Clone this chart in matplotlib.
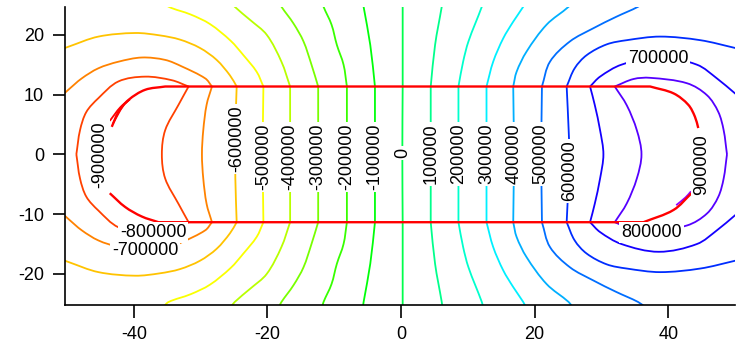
import matplotlib
matplotlib.use("Agg")
import matplotlib.pyplot as plt
import matplotlib.colors as mcolors
from matplotlib.path import Path
from matplotlib.patches import PathPatch
import numpy as np

plt.rcParams['font.family'] = ['Liberation Sans', 'DejaVu Sans']
plt.rcParams['axes.unicode_minus'] = False

# Contour levels and the upper-half trace (y >= 0) of each level; the lower half is its mirror.
levels = [-800000, -700000, -600000, -500000, -400000, -300000, -200000, -100000, 0,
          100000, 200000, 300000, 400000, 500000, 600000, 700000, 800000]

paths = {
    -800000: [(-48.6, 0), (-48.05, 4.05), (-47.1, 7.1), (-45.3, 9.4), (-42.3, 12.2), (-38.3, 13.0),
              (-34.3, 12.4), (-31.8, 11.35), (-33.3, 8.3), (-35.3, 4.05), (-35.8, 0)],
    -700000: [(-51.0, 9.6), (-49.8, 10.8), (-47.8, 12.7), (-45.3, 14.4), (-42.3, 15.5), (-38.8, 16.2),
              (-35.3, 15.8), (-32.8, 14.7), (-29.3, 12.7), (-28.3, 11.35), (-29.1, 8.3), (-29.6, 4.05),
              (-29.8, 0)],
    -600000: [(-51.0, 17.5), (-49.8, 18.0), (-45.3, 19.7), (-39.8, 20.3), (-36.1, 19.9), (-33.1, 19.2),
              (-30.1, 17.8), (-27.6, 15.8), (-25.6, 13.2), (-24.6, 11.35), (-24.8, 4.0), (-24.8, 0)],
    -500000: [(-35.6, 25.6), (-34.8, 24.7), (-31.5, 23.4), (-28.6, 21.8), (-25.5, 19.0), (-23.6, 16.6),
              (-21.6, 13.8), (-20.6, 11.35), (-20.7, 0)],
    -400000: [(-25.5, 25.6), (-24.9, 24.7), (-22.6, 22.5), (-20.1, 20.0), (-17.9, 15.5), (-16.6, 11.35),
              (-16.6, 0)],
    -300000: [(-18.3, 25.6), (-17.9, 24.7), (-16.1, 21.9), (-14.6, 18.9), (-13.4, 15.0), (-12.4, 11.35),
              (-12.4, 0)],
    -200000: [(-11.8, 25.6), (-11.6, 24.7), (-10.4, 21.7), (-9.6, 18.3), (-8.6, 15.0), (-8.1, 11.35),
              (-8.1, 0)],
    -100000: [(-5.7, 25.6), (-5.6, 24.7), (-4.6, 18.3), (-3.9, 11.35), (-3.9, 0)],
    0: [(0.25, 25.6), (0.25, 11.35), (0.2, 0)],
    100000: [(6.2, 25.6), (6.1, 24.7), (5.1, 18.3), (4.45, 11.35), (4.45, 0)],
    200000: [(12.3, 25.6), (12.1, 24.7), (10.1, 18.9), (9.3, 15.5), (8.6, 11.35), (8.6, 0)],
    300000: [(18.7, 25.6), (18.3, 24.7), (16.8, 22.2), (15.3, 19.4), (13.8, 15.5), (12.8, 11.35),
             (12.8, 0)],
    400000: [(25.7, 25.6), (25.1, 24.7), (21.8, 21.7), (18.8, 17.2), (17.3, 13.8), (16.8, 11.35),
             (16.9, 0)],
    500000: [(36.6, 25.6), (35.5, 24.7), (32.2, 23.0), (28.8, 21.1), (25.3, 18.9), (22.3, 15.5),
             (21.1, 11.35), (21.0, 0)],
    600000: [(51.0, 17.5), (50.0, 17.8), (44.8, 19.1), (38.8, 19.7), (33.8, 19.1), (30.8, 18.4),
             (27.8, 16.6), (26.0, 14.4), (24.8, 11.35), (25.1, 4.0), (25.2, 0)],
    700000: [(51.0, 9.3), (50.0, 10.2), (47.3, 12.7), (44.3, 15.0), (38.6, 16.3), (33.0, 15.0),
             (29.8, 13.0), (28.3, 11.35), (29.0, 8.3), (29.8, 4.05), (30.3, 0)],
    800000: [(48.8, 0), (48.3, 4.05), (47.5, 7.1), (45.8, 9.9), (42.8, 11.9), (37.3, 12.8),
             (34.8, 12.6), (32.0, 11.35), (33.8, 8.2), (35.3, 4.05), (36.0, 0)],
}

# Slab interface height: contour lines refract (kink) where they cross it
slab_y = 11.35

# Short fragments of the +/-900000 levels
stubs = {
    -900000: [[(-43.6, 5.6), (-42.0, 7.9), (-40.6, 9.2)],
              [(-43.1, 5.2), (-41.6, 8.1), (-40.6, 9.2)]],
    900000: [[(41.2, -8.5), (42.6, -7.2), (43.4, -6.2)]],
}

# Interface outline (red)
outline_top = [(-43.3, 4.6), (-42.3, 7.1), (-40.8, 9.1), (-38.3, 10.8), (-35.3, 11.35),
               (37.3, 11.35), (40.8, 10.2), (43.0, 8.3), (44.0, 6.3), (44.5, 4.4)]
outline_bottom = [(-43.6, -6.5), (-41.3, -8.8), (-38.8, -10.4), (-36.3, -11.35),
                  (36.3, -11.35), (40.8, -9.3), (43.5, -6.5)]

# Contour labels: text, x, y, rotation
labels = [
    ("-900000", -45.1, 0.0, 90), ("-600000", -24.6, 2.6, 90),
    ("-500000", -20.6, -0.4, 90), ("-400000", -16.6, -0.4, 90), ("-300000", -12.4, -0.4, 90),
    ("-200000", -8.1, -0.4, 90), ("-100000", -3.9, -0.4, 90), ("0", 0.25, 0.2, 90),
    ("100000", 4.45, 0.1, 90), ("200000", 8.6, 0.1, 90), ("300000", 12.8, 0.1, 90),
    ("400000", 16.9, 0.1, 90), ("500000", 21.0, 0.1, 90), ("600000", 25.2, -2.8, 90),
    ("900000", 45.0, -1.8, 90),
    ("700000", 38.5, 16.0, 0), ("800000", 37.5, -13.1, 0),
    ("-800000", -37.1, -13.1, 0), ("-700000", -38.3, -16.0, 0),
]

xticks = [-40, -20, 0, 20, 40]
yticks = [-20, -10, 0, 10, 20]


def level_color(v):
    hue = (v + 900000) / 100000 * 15.3 / 360.0
    return mcolors.hsv_to_rgb((hue % 1.0, 1.0, 1.0))


def smooth_path(pts, breaks=()):
    """Cubic Bezier path through pts, with sharp corners at the indices in breaks."""
    pts = np.asarray(pts, dtype=float)
    n = len(pts)
    cuts = sorted(set([0, n - 1] + [b for b in breaks if 0 < b < n - 1]))
    verts, codes = [tuple(pts[0])], [Path.MOVETO]
    for a, b in zip(cuts[:-1], cuts[1:]):
        piece = pts[a:b + 1]
        m = len(piece)
        tang = np.zeros_like(piece)
        for i in range(m):
            d = piece[min(i + 1, m - 1)] - piece[max(i - 1, 0)]
            tang[i] = d / (np.hypot(*d) or 1.0)
        for i in range(m - 1):
            p0, p1 = piece[i], piece[i + 1]
            L = np.hypot(*(p1 - p0))
            verts += [tuple(p0 + tang[i] * L / 3), tuple(p1 - tang[i + 1] * L / 3), tuple(p1)]
            codes += [Path.CURVE4] * 3
    return Path(verts, codes)


def draw(ax, pts, color, lw, breaks=(), z=2):
    patch = PathPatch(smooth_path(pts, breaks), fc='none', ec=color, lw=lw,
                      capstyle='butt', joinstyle='round', zorder=z)
    ax.add_patch(patch)


fig = plt.figure(figsize=(7.4, 3.47), dpi=100)
ax = fig.add_axes([65 / 740, 42 / 347, 670 / 740, 298.3 / 347])

lw = 1.3
for lev in levels:
    pts = np.array(paths[lev], dtype=float)
    lower = pts[::-1] * np.array([1, -1])
    full = np.vstack([pts, lower[1:]])
    kinks = [i for i, (x, y) in enumerate(full) if abs(abs(y) - slab_y) < 1e-6]
    draw(ax, full, level_color(lev), lw, kinks)

for lev, segs in stubs.items():
    for seg in segs:
        draw(ax, seg, level_color(lev), lw)

# the outline runs straight along the interface, so break the curve where it meets it
for seg in (outline_top, outline_bottom):
    flat = [i for i, (x, y) in enumerate(seg) if abs(abs(y) - slab_y) < 1e-6]
    draw(ax, seg, '#ff0000', 1.7, flat, z=3)

for text, x, y, rot in labels:
    ax.text(x, y, text, rotation=rot, ha='center', va='center', fontsize=13, color='black',
            bbox=dict(boxstyle='square,pad=0.1', fc='white', ec='none'), zorder=5)

ax.set_xlim(-50.3, 50.0)
ax.set_ylim(-25.2, 24.7)
ax.set_xticks(xticks)
ax.set_yticks(yticks)
ax.tick_params(axis='both', direction='out', length=9, width=1.2, labelsize=13, pad=6, colors='black')
for side in ('top', 'right'):
    ax.spines[side].set_visible(False)
for side in ('left', 'bottom'):
    ax.spines[side].set_linewidth(1.2)

fig.savefig('out.png', dpi=100)
